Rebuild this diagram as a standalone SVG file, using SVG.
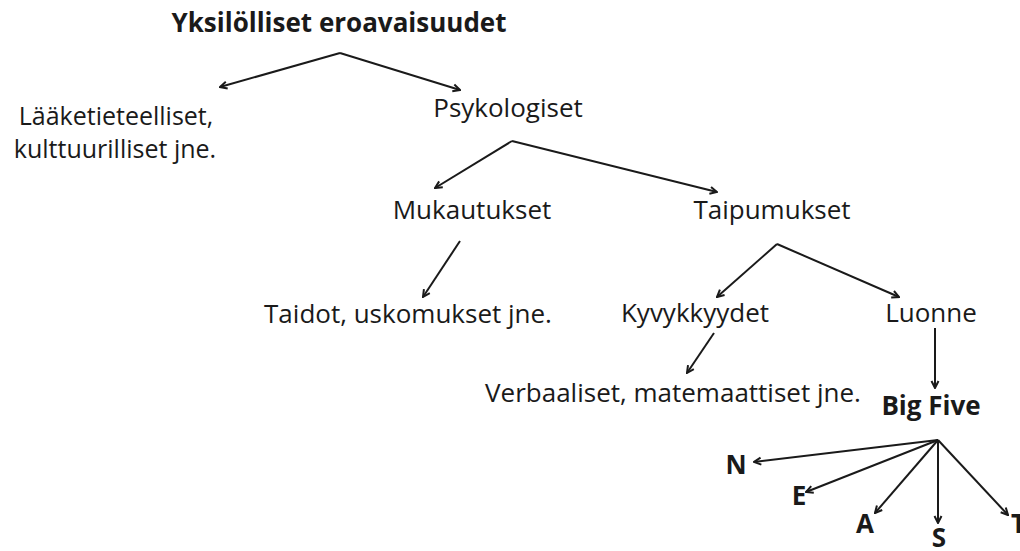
<svg xmlns="http://www.w3.org/2000/svg" width="1020" height="551" viewBox="0 0 1020 551">
<defs>
<style>
text{font-family:"Open Sans","Noto Sans","Liberation Sans",sans-serif;fill:#1a1a1a;font-size:26px;text-anchor:middle}
.b{font-weight:bold}
.c line{stroke:#1a1a1a;stroke-width:2;fill:none;marker-end:url(#ah)}
</style>
<marker id="ah" markerUnits="userSpaceOnUse" viewBox="0 0 10 10" refX="9" refY="5" markerWidth="10" markerHeight="10" orient="auto">
<path d="M2,1.5 L9,5 L2,8.5" fill="none" stroke="#1a1a1a" stroke-width="2"/>
</marker>
</defs>
<rect width="1020" height="551" fill="#fff"/>
<g id="connectors" class="c">
<line x1="340" y1="53" x2="220" y2="87"/>
<line x1="340" y1="53" x2="460" y2="90"/>
<line x1="512" y1="141" x2="435" y2="188"/>
<line x1="512" y1="141" x2="717" y2="192"/>
<line x1="460" y1="241" x2="423" y2="297"/>
<line x1="777" y1="244" x2="717" y2="297"/>
<line x1="777" y1="244" x2="899" y2="297"/>
<line x1="714" y1="333" x2="687" y2="373"/>
<line x1="935" y1="328" x2="935" y2="388"/>
<line x1="938" y1="440" x2="754" y2="462"/>
<line x1="938" y1="440" x2="806" y2="492"/>
<line x1="938" y1="440" x2="875" y2="513"/>
<line x1="938" y1="440" x2="938" y2="523"/>
<line x1="938" y1="440" x2="1008" y2="515"/>
</g>
<g id="n-root"><text class="b" x="339" y="32">Yksilölliset eroavaisuudet</text></g>
<g id="n-laake"><text x="116" y="125" style="font-size:25px">Lääketieteelliset,</text><text x="115" y="158" style="font-size:25px">kulttuurilliset jne.</text></g>
<g id="n-psyk"><text x="508" y="117">Psykologiset</text></g>
<g id="n-muk"><text x="472" y="219">Mukautukset</text></g>
<g id="n-taip"><text x="772" y="219">Taipumukset</text></g>
<g id="n-taidot"><text x="408" y="323">Taidot, uskomukset jne.</text></g>
<g id="n-kyv"><text x="695" y="322">Kyvykkyydet</text></g>
<g id="n-luonne"><text x="931" y="322">Luonne</text></g>
<g id="n-verb"><text x="673" y="402">Verbaaliset, matemaattiset jne.</text></g>
<g id="n-big"><text class="b" x="931" y="415">Big Five</text></g>
<g id="n-N"><text class="b" x="736" y="474">N</text></g>
<g id="n-E"><text class="b" x="799" y="505">E</text></g>
<g id="n-A"><text class="b" x="865" y="533">A</text></g>
<g id="n-S"><text class="b" x="939" y="547">S</text></g>
<g id="n-T"><text class="b" x="1011" y="533" style="text-anchor:start">T</text></g>
</svg>
